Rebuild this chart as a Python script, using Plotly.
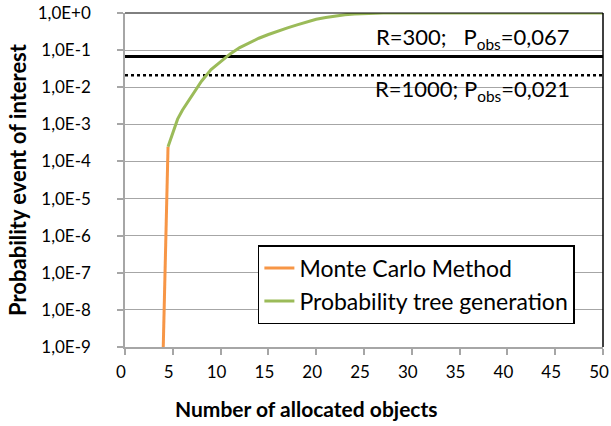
import math
import plotly.graph_objects as go

# ---- data ----
mc_x = [4.0, 4.5]
mc_y = [1e-9, 2.5e-4]

tree_x = [4.5, 5, 5.5, 6, 7, 8, 9, 10, 11, 12, 13, 14, 15, 16, 17, 18, 19, 20, 21, 22, 23,
          24, 25, 26, 27, 28, 30, 35, 40, 45, 50]
tree_y = [2.5e-4, 5.8e-4, 1.38e-3, 2.4e-3, 5.75e-3, 0.0145, 0.030, 0.050, 0.079, 0.117, 0.158,
          0.209, 0.263, 0.331, 0.398, 0.479, 0.575, 0.676, 0.759, 0.841, 0.902, 0.944, 0.973,
          0.989, 0.995, 1.0, 1.0, 1.0, 1.0, 1.0, 1.0]

obs_r300 = 0.067
obs_r1000 = 0.021
x_span = [0, 50]

y_tickvals = [1, 1e-1, 1e-2, 1e-3, 1e-4, 1e-5, 1e-6, 1e-7, 1e-8, 1e-9]
y_ticktext = ["1,0E+0", "1,0E-1", "1,0E-2", "1,0E-3", "1,0E-4", "1,0E-5", "1,0E-6",
              "1,0E-7", "1,0E-8", "1,0E-9"]
x_tickvals = list(range(0, 51, 5))

FONT = "Lato"
GRID = "#A6A6A6"

fig = go.Figure()
fig.add_trace(go.Scatter(x=x_span, y=[obs_r300, obs_r300], mode="lines",
                         line=dict(color="black", width=3), showlegend=False, hoverinfo="skip"))
fig.add_trace(go.Scatter(x=x_span, y=[obs_r1000, obs_r1000], mode="lines",
                         line=dict(color="black", width=2.5, dash="dot"), showlegend=False,
                         hoverinfo="skip"))
fig.add_trace(go.Scatter(x=mc_x, y=mc_y, mode="lines", name="Monte Carlo Method",
                         line=dict(color="#F79646", width=3)))
fig.add_trace(go.Scatter(x=tree_x, y=tree_y, mode="lines", name="Probability tree generation",
                         line=dict(color="#9BBB59", width=3)))

fig.update_layout(
    width=611, height=426,
    margin=dict(l=125, r=8, t=13, b=79),
    paper_bgcolor="white", plot_bgcolor="white",
    font=dict(family=FONT, color="black", size=17),
    legend=dict(x=0.278, y=0.305, xanchor="left", yanchor="top",
                bgcolor="white", bordercolor="black", borderwidth=1.5,
                font=dict(family=FONT, size=23, color="black"),
                tracegroupgap=0, itemwidth=30),
    showlegend=True,
)

fig.update_xaxes(
    range=[-0.001, 50.001], tickvals=x_tickvals, showgrid=False, zeroline=False,
    showline=True, linecolor=GRID, linewidth=1.5, automargin=False,
    ticks="outside", ticklen=6, tickcolor=GRID, tickwidth=1.5,
    ticklabelstandoff=3, ticklabelshift=-4, ticklabeloverflow="allow",
    tickfont=dict(family=FONT, size=17),
)
fig.update_yaxes(
    type="log", range=[-9.0001, 0.0001], tickvals=y_tickvals, ticktext=y_ticktext,
    showgrid=True, gridcolor=GRID, gridwidth=1, zeroline=False,
    showline=True, linecolor=GRID, linewidth=1.5, automargin=False,
    ticks="outside", ticklen=6, tickcolor=GRID, tickwidth=1.5,
    ticklabelstandoff=23, ticklabeloverflow="allow",
    tickfont=dict(family=FONT, size=17),
    title=dict(text="<b>Probability event of interest</b>", font=dict(family=FONT, size=22),
               standoff=5),
)

# x-axis title centred on the whole chart, as in the reference
# (paper coordinates are relative to the plot area: 125..603 x, 13..347 y in px)
fig.add_annotation(x=(306 - 125) / 478, y=(347 - 408) / 334, xref="paper", yref="paper",
                   xanchor="center", yanchor="middle", showarrow=False,
                   text="<b>Number of allocated objects</b>",
                   font=dict(family=FONT, size=21, color="black"))

# black top and right frame
fig.add_shape(type="line", xref="x domain", yref="y domain", x0=0, x1=1, y0=1, y1=1,
              line=dict(color="black", width=1))
fig.add_shape(type="line", xref="x domain", yref="y domain", x0=1, x1=1, y0=0, y1=1,
              line=dict(color="black", width=1.5))

fig.add_annotation(x=46.8, y=math.log10(obs_r300), xref="x", yref="y",
                   xanchor="right", yanchor="bottom", yshift=2, showarrow=False,
                   text="R=300;&nbsp;&nbsp;&nbsp;P<sub>obs</sub>=0,067",
                   font=dict(family=FONT, size=22, color="black"))
fig.add_annotation(x=46.8, y=math.log10(obs_r1000), xref="x", yref="y",
                   xanchor="right", yanchor="top", yshift=2, showarrow=False,
                   text="R=1000; P<sub>obs</sub>=0,021",
                   font=dict(family=FONT, size=22, color="black"))

# remove the page's default 8px body margin so the figure sits at the window origin
fig.write_html("out.html", config={"displayModeBar": False},
               post_script="document.body.style.margin='0';")
